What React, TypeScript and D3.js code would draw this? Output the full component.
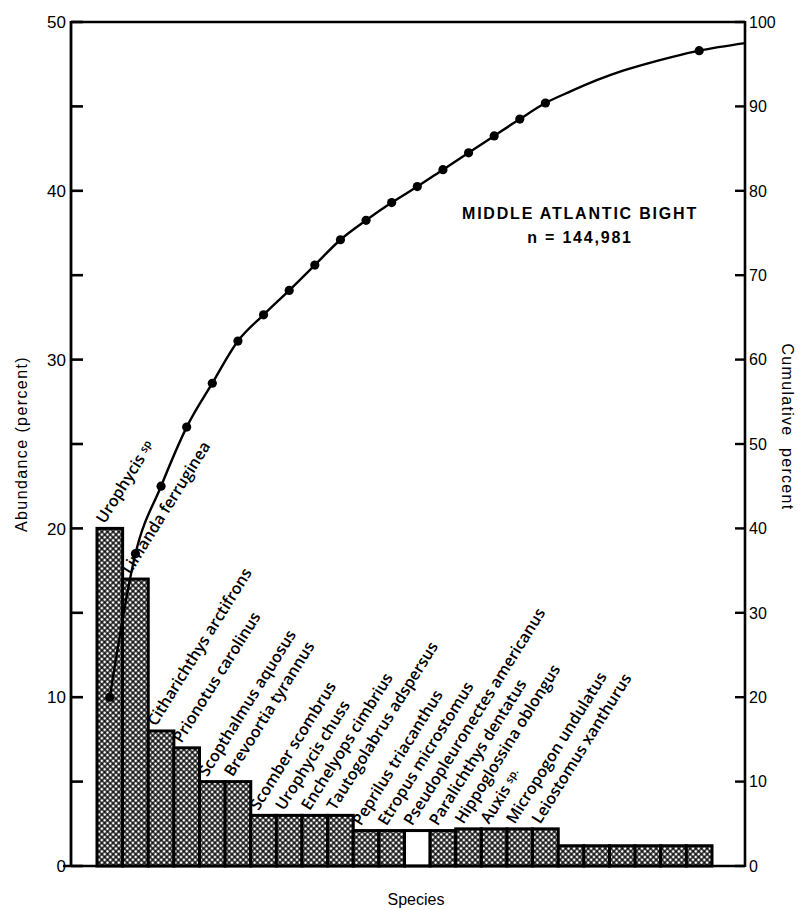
import React, { useEffect, useRef } from 'react';
import * as d3 from 'd3';

// species in rank order (last six bars carry no label in the figure)
const species = [
    'Urophycis sp', 'Limanda ferruginea', 'Citharichthys arctifrons', 'Prionotus carolinus',
    'Scopthalmus aquosus', 'Brevoortia tyrannus', 'Scomber scombrus', 'Urophycis chuss',
    'Enchelyops cimbrius', 'Tautogolabrus adspersus', 'Peprilus triacanthus', 'Etropus microstomus',
    'Pseudopleuronectes americanus', 'Paralichthys dentatus', 'Hippoglossina oblongus', 'Auxis sp.',
    'Micropogon undulatus', 'Leiostomus xanthurus', '', '', '', '', '', ''
];
const abundance = [20, 17, 8, 7, 5, 5, 3, 3, 3, 3, 2.1, 2.1, 2.1, 2.1, 2.2, 2.2, 2.2, 2.2, 1.2, 1.2, 1.2, 1.2, 1.2, 1.2];
const cumulative = [20, 37, 45, 52, 57.2, 62.2, 65.3, 68.2, 71.2, 74.2, 76.5, 78.6, 80.5, 82.5, 84.5, 86.5, 88.5, 90.4, 91.8, 93.1, 94.2, 95.1, 95.9, 96.6];
const markerShown = [1, 1, 1, 1, 1, 1, 1, 1, 1, 1, 1, 1, 1, 1, 1, 1, 1, 1, 0, 0, 0, 0, 0, 1];
const cumulativeAtEdge = 97.5;
const openBar = 'Pseudopleuronectes americanus';
const leftTicks = [0, 5, 10, 15, 20, 25, 30, 35, 40, 45, 50];
const leftLabels = [0, 10, 20, 30, 40, 50];
const rightTicks = [0, 10, 20, 30, 40, 50, 60, 70, 80, 90, 100];

const App = () => {
    const ref = useRef<SVGSVGElement>(null);

    useEffect(() => {
        const svg = d3.select(ref.current);
        svg.selectAll('*').remove();

        const left = 71, right = 745, top = 22, bottom = 866;
        const font = '"Liberation Sans", Arial, sans-serif';

        const x = d3.scaleBand<number>()
            .domain(d3.range(abundance.length))
            .range([97, 712])
            .padding(0);
        const y = d3.scaleLinear().domain([0, 50]).range([bottom, top]);
        const yR = d3.scaleLinear().domain([0, 100]).range([bottom, top]);
        const bw = x.bandwidth();

        // halftone-ish fill: white diamonds in a black net
        const pat = svg.append('defs').append('pattern')
            .attr('id', 'hatch')
            .attr('patternUnits', 'userSpaceOnUse')
            .attr('patternTransform', 'rotate(45)')
            .attr('width', 4).attr('height', 4);
        pat.append('rect').attr('width', 4).attr('height', 4).attr('fill', '#000');
        pat.append('rect').attr('x', 0.7).attr('y', 0.7).attr('width', 2.6).attr('height', 2.6).attr('fill', '#fff');

        // bars
        svg.append('g').selectAll('rect')
            .data(abundance)
            .enter().append('rect')
            .attr('x', (d, i) => x(i)!)
            .attr('y', d => y(d))
            .attr('width', bw)
            .attr('height', d => y(0) - y(d))
            .attr('fill', (d, i) => species[i] === openBar ? '#fff' : 'url(#hatch)')
            .attr('stroke', '#000')
            .attr('stroke-width', 3);

        // frame: top line, baseline, both axes
        svg.append('line').attr('x1', left).attr('x2', right).attr('y1', top).attr('y2', top)
            .attr('stroke', '#000').attr('stroke-width', 2.4);
        svg.append('line').attr('x1', left - 8).attr('x2', right).attr('y1', bottom).attr('y2', bottom)
            .attr('stroke', '#000').attr('stroke-width', 2.6);
        svg.append('line').attr('x1', left).attr('x2', left).attr('y1', top - 1).attr('y2', bottom + 1)
            .attr('stroke', '#000').attr('stroke-width', 2.8);
        svg.append('line').attr('x1', right).attr('x2', right).attr('y1', top - 1).attr('y2', bottom + 1)
            .attr('stroke', '#000').attr('stroke-width', 2.6);

        // left ticks (inward)
        svg.append('g').selectAll('line')
            .data(leftTicks)
            .enter().append('line')
            .attr('x1', left).attr('x2', left + 12)
            .attr('y1', d => y(d)).attr('y2', d => y(d))
            .attr('stroke', '#000').attr('stroke-width', 2.6);
        svg.append('g').selectAll('text')
            .data(leftLabels)
            .enter().append('text')
            .attr('x', left - 5)
            .attr('y', d => y(d))
            .attr('dy', '0.36em')
            .attr('text-anchor', 'end')
            .style('font-family', font)
            .style('font-size', '17px')
            .text(d => d);

        // right ticks (inward)
        svg.append('g').selectAll('line')
            .data(rightTicks)
            .enter().append('line')
            .attr('x1', right - 10).attr('x2', right)
            .attr('y1', d => yR(d)).attr('y2', d => yR(d))
            .attr('stroke', '#000').attr('stroke-width', 2.4);
        svg.append('g').selectAll('text')
            .data(rightTicks)
            .enter().append('text')
            .attr('x', right + 4)
            .attr('y', d => yR(d))
            .attr('dy', '0.36em')
            .style('font-family', font)
            .style('font-size', '16px')
            .text(d => d);

        // axis titles
        svg.append('text')
            .attr('transform', `translate(27,${(top + bottom) / 2}) rotate(-90)`)
            .attr('text-anchor', 'middle')
            .style('font-family', font)
            .style('font-size', '16px')
            .style('letter-spacing', '1.4px')
            .text('Abundance (percent)');
        svg.append('text')
            .attr('transform', `translate(782,${(top + bottom) / 2 - 17}) rotate(90)`)
            .attr('text-anchor', 'middle')
            .style('font-family', font)
            .style('font-size', '16px')
            .style('letter-spacing', '1.3px')
            .style('white-space', 'pre')
            .text('Cumulative  percent');
        svg.append('text')
            .attr('x', 416).attr('y', 905)
            .attr('text-anchor', 'middle')
            .style('font-family', font)
            .style('font-size', '16px')
            .text('Species');

        // region title
        const title = svg.append('text')
            .attr('text-anchor', 'middle')
            .style('font-family', font)
            .style('font-weight', 'bold')
            .style('font-size', '16px')
            .style('letter-spacing', '1.8px');
        title.append('tspan').attr('x', 580).attr('y', 219).text('MIDDLE ATLANTIC BIGHT');
        title.append('tspan').attr('x', 580).attr('y', 243).text('n = 144,981');

        // species labels, slanted
        const labels = svg.append('g').selectAll('text')
            .data(species.map((s, i) => ({ s, i })).filter(d => d.s))
            .enter().append('text')
            .attr('transform', d => `translate(${x(d.i)! + bw * 0.3},${y(abundance[d.i]) - 4}) rotate(-58)`)
            .style('font-family', '"Open Sans", sans-serif')
            .style('font-weight', 600)
            .style('font-size', '16px');
        labels.each(function (d) {
            const t = d3.select(this);
            const m = d.s.match(/^(.*) (sp\.?)$/);
            if (m) {
                t.append('tspan').text(m[1] + ' ');
                t.append('tspan').style('font-size', '11px').attr('dy', -3).text(m[2]);
            } else {
                t.text(d.s);
            }
        });

        // cumulative curve
        const pts: [number, number][] = cumulative.map((c, i) => [x(i)! + bw / 2, yR(c)]);
        pts.push([right, yR(cumulativeAtEdge)]);
        svg.append('path')
            .attr('d', d3.line().curve(d3.curveMonotoneX)(pts))
            .attr('fill', 'none')
            .attr('stroke', '#000')
            .attr('stroke-width', 2.4);
        svg.append('g').selectAll('circle')
            .data(cumulative.map((c, i) => ({ c, i })).filter(d => markerShown[d.i]))
            .enter().append('circle')
            .attr('cx', d => x(d.i)! + bw / 2)
            .attr('cy', d => yR(d.c))
            .attr('r', 4.6)
            .attr('fill', '#000');
    }, []);

    return (
        <svg ref={ref} width={810} height={910}
            style={{ position: 'absolute', left: 0, top: 0, background: '#fff' }} />
    );
};

export default App;
